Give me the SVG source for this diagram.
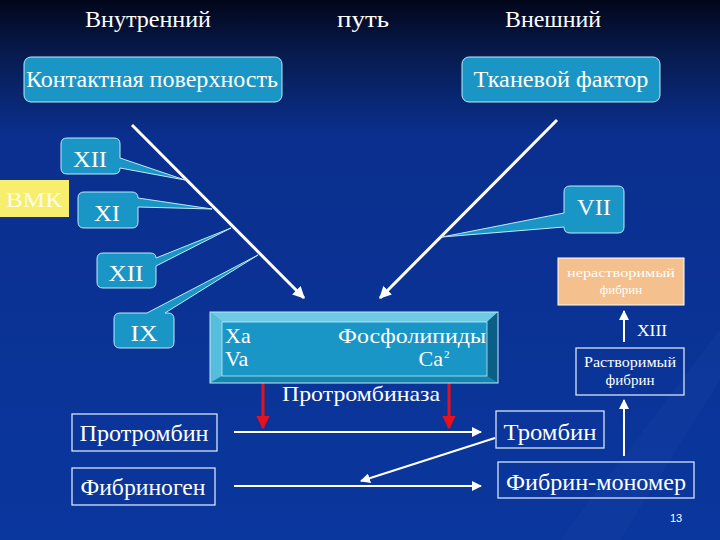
<svg xmlns="http://www.w3.org/2000/svg" width="720" height="540" viewBox="0 0 720 540">
<defs>
<linearGradient id="bg" x1="0" y1="0" x2="0" y2="1">
<stop offset="0" stop-color="#02061a"/>
<stop offset="0.1" stop-color="#071b4e"/>
<stop offset="0.25" stop-color="#0a2f8e"/>
<stop offset="1" stop-color="#0a379e"/>
</linearGradient>
<marker id="aw" viewBox="0 0 10 10" refX="9" refY="5" markerWidth="4" markerHeight="4" orient="auto" markerUnits="strokeWidth">
<path d="M0,0 L10,5 L0,10 Z" fill="#ffffff"/>
</marker>
<marker id="ar" viewBox="0 0 10 10" refX="9" refY="5" markerWidth="4.5" markerHeight="4.5" orient="auto" markerUnits="strokeWidth">
<path d="M0,0 L10,5 L0,10 Z" fill="#e8101a"/>
</marker>
<marker id="aws" viewBox="0 0 10 10" refX="9" refY="5" markerWidth="5" markerHeight="5" orient="auto" markerUnits="strokeWidth">
<path d="M0,0 L10,5 L0,10 Z" fill="#ffffff"/>
</marker>
</defs>
<style>
text{font-family:"Liberation Serif","Times New Roman",serif;fill:#ffffff;}
.t24{font-size:24px;}
.t22{font-size:22px;}
.t20{font-size:20px;}
.c{text-anchor:middle;}
.call{fill:#1a96c6;stroke:#bfe9f7;stroke-width:1;}
.box{fill:none;stroke:#e6f2ff;stroke-width:1.2;}
.wl{stroke:#ffffff;stroke-width:3;fill:none;}
.wa{stroke:#ffffff;stroke-width:2;fill:none;}
.rl{stroke:#e8101a;stroke-width:3;fill:none;}
</style>
<rect width="720" height="540" fill="url(#bg)"/>
<path d="M560,540 L720,330 L720,380 L620,540 Z" fill="#1a44a8" opacity="0.25"/>

<g id="headers">
<text class="t24 c" x="148" y="27" textLength="126" lengthAdjust="spacingAndGlyphs">Внутренний</text>
<text class="t24 c" x="363" y="27" textLength="52" lengthAdjust="spacingAndGlyphs">путь</text>
<text class="t24 c" x="553" y="27" textLength="96" lengthAdjust="spacingAndGlyphs">Внешний</text>
</g>

<g id="contact">
<rect class="call" x="24" y="57" width="258" height="45" rx="7"/>
<text class="t24 c" x="152" y="87" textLength="252" lengthAdjust="spacingAndGlyphs">Контактная поверхность</text>
</g>
<g id="tissue">
<rect class="call" x="462" y="57" width="198" height="45" rx="7"/>
<text class="t24 c" x="561" y="87" textLength="175" lengthAdjust="spacingAndGlyphs">Тканевой фактор</text>
</g>

<g id="connectors">
<line class="wl" x1="132" y1="125" x2="304" y2="298" marker-end="url(#aw)"/>
<line class="wl" x1="557" y1="120" x2="380" y2="298" marker-end="url(#aw)"/>
<line class="rl" x1="263" y1="366" x2="263" y2="428" marker-end="url(#ar)"/>
<line class="rl" x1="449" y1="366" x2="449" y2="428" marker-end="url(#ar)"/>
<line class="wa" x1="234" y1="432" x2="481" y2="432" marker-end="url(#aws)"/>
<line class="wa" x1="234" y1="486" x2="481" y2="486" marker-end="url(#aws)"/>
<line class="wa" x1="495" y1="438" x2="361" y2="481" marker-end="url(#aws)"/>
<line class="wa" x1="624" y1="456" x2="624" y2="400" marker-end="url(#aws)"/>
<line class="wa" x1="624" y1="342" x2="624" y2="311" marker-end="url(#aws)"/>
</g>

<g id="f12a">
<path class="call" d="M67,138 H114 Q120,138 120,144 V158 L185,180 L120,168 V168 Q120,174 114,174 H67 Q61,174 61,168 V144 Q61,138 67,138 Z"/>
<text class="t24 c" x="90" y="167" textLength="34" lengthAdjust="spacingAndGlyphs">XII</text>
</g>
<g id="vmk">
<rect x="0" y="180" width="69" height="37" fill="#f6ee6c"/>
<text class="t20 c" x="34" y="207" style="fill:#fffbe6" textLength="56" lengthAdjust="spacingAndGlyphs">ВМК</text>
</g>
<g id="f11">
<path class="call" d="M84,192 H132 Q138,192 138,198 V198 L212,209 L138,207 V222 Q138,228 132,228 H84 Q78,228 78,222 V198 Q78,192 84,192 Z"/>
<text class="t24 c" x="107" y="221" textLength="26" lengthAdjust="spacingAndGlyphs">XI</text>
</g>
<g id="f12b">
<path class="call" d="M103,253 H150 Q156,253 156,258 L231,228 L156,266 V282 Q156,288 150,288 H103 Q97,288 97,282 V259 Q97,253 103,253 Z"/>
<text class="t24 c" x="126" y="281" textLength="35" lengthAdjust="spacingAndGlyphs">XII</text>
</g>
<g id="f9">
<path class="call" d="M120,313 H147 L258,255 L165,313 H168 Q174,313 174,319 V342 Q174,348 168,348 H120 Q114,348 114,342 V319 Q114,313 120,313 Z"/>
<text class="t24 c" x="144" y="341" textLength="27" lengthAdjust="spacingAndGlyphs">IX</text>
</g>
<g id="f7">
<path class="call" d="M570,186 H618 Q624,186 624,192 V227 Q624,233 618,233 H570 Q564,233 564,227 L442,237 L564,213 V192 Q564,186 570,186 Z"/>
<text class="t24 c" x="594" y="215" textLength="34" lengthAdjust="spacingAndGlyphs">VII</text>
</g>

<g id="prothrombinase">
<rect x="210" y="312" width="288" height="71" fill="#1a96c6"/>
<polygon points="210,312 498,312 487,322 222,322" fill="#6fcbe4"/>
<polygon points="210,312 222,322 222,376 210,383" fill="#58bcdc"/>
<polygon points="498,312 498,383 487,376 487,322" fill="#0b5f86"/>
<polygon points="210,383 498,383 487,376 222,376" fill="#1484b0"/>
<rect x="210" y="312" width="288" height="71" fill="none" stroke="#bfe9f7" stroke-width="1"/>
<rect x="222" y="322" width="265" height="54" fill="none" stroke="#bfe9f7" stroke-width="0.8"/>
<text class="t22" x="225" y="343">Xa</text>
<text class="t22" x="225" y="366">Va</text>
<text class="t22" x="486" y="343" text-anchor="end" textLength="148" lengthAdjust="spacingAndGlyphs">Фосфолипиды</text>
<text class="t22" x="443" y="366" text-anchor="end">Ca</text>
<text x="444" y="358" style="font-size:11px">2</text>
<text class="t22 c" x="361" y="401" textLength="158" lengthAdjust="spacingAndGlyphs">Протромбиназа</text>
</g>

<g id="insoluble">
<rect x="558" y="258" width="126" height="47" fill="#f4c08e" stroke="#ffffff" stroke-width="1"/>
<text class="c" x="621" y="277" style="font-size:13px" textLength="108" lengthAdjust="spacingAndGlyphs">нерастворимый</text>
<text class="c" x="621" y="294" style="font-size:13px">фибрин</text>
</g>
<g id="xiii">
<text x="637" y="336" style="font-size:17px" textLength="30" lengthAdjust="spacingAndGlyphs">XIII</text>
</g>
<g id="soluble">
<rect class="box" x="576" y="348" width="108" height="47" fill="#0a2e8e"/>
<text class="c" x="630" y="367" style="font-size:15px" textLength="92" lengthAdjust="spacingAndGlyphs">Растворимый</text>
<text class="c" x="630" y="385" style="font-size:15px">фибрин</text>
</g>

<g id="prothrombin">
<rect class="box" x="72" y="414" width="145" height="37"/>
<text class="t24 c" x="144" y="441" textLength="129" lengthAdjust="spacingAndGlyphs">Протромбин</text>
</g>
<g id="fibrinogen">
<rect class="box" x="72" y="468" width="143" height="37"/>
<text class="t24 c" x="143" y="495" textLength="125" lengthAdjust="spacingAndGlyphs">Фибриноген</text>
</g>
<g id="thrombin">
<rect class="box" x="496" y="411" width="108" height="37"/>
<text class="t24 c" x="550" y="440" textLength="93" lengthAdjust="spacingAndGlyphs">Тромбин</text>
</g>
<g id="fibrinmonomer">
<rect class="box" x="498" y="462" width="196" height="36"/>
<text class="t24 c" x="596" y="490" textLength="180" lengthAdjust="spacingAndGlyphs">Фибрин-мономер</text>
</g>

<text x="670" y="522" style="font-family:'Liberation Sans',Arial,sans-serif;font-size:11px">13</text>
</svg>
